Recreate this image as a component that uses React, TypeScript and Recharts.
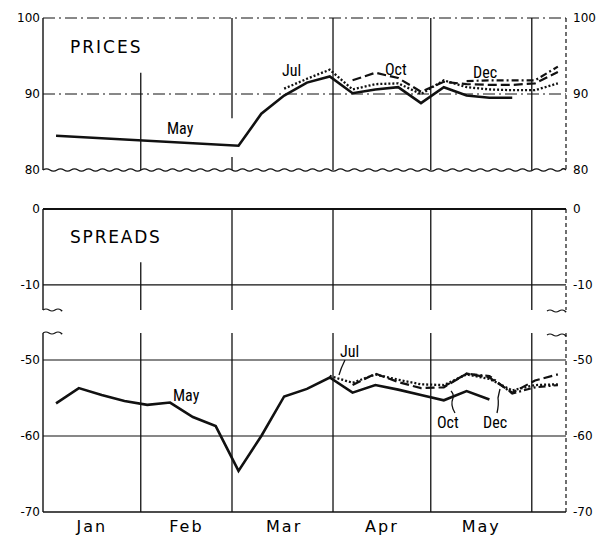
import React from 'react';
import { LineChart, Line, XAxis, YAxis, ReferenceLine } from 'recharts';

const N = null;
// x positions: day of year (Jan 1 = 1), weekly observations
const days = [5, 12, 19, 26, 33, 40, 47, 54, 61, 68, 75, 82, 89, 96, 103, 110, 117, 124, 131, 138, 145, 152, 159];

const priceMay = [84.5, N, N, N, N, N, N, N, 83.2, 87.4, 89.8, 91.5, 92.3, 90.1, 90.6, 90.9, 88.8, 90.9, 89.8, 89.5, 89.5, N, N];
const priceJul = [N, N, N, N, N, N, N, N, N, N, 90.7, 92.0, 93.2, 90.6, 91.3, 91.4, 90.0, 91.8, 90.9, 90.6, 90.5, 90.5, 91.4];
const priceOct = [N, N, N, N, N, N, N, N, N, N, N, N, N, 91.8, 92.8, 92.1, 90.3, 91.6, 91.3, 91.2, 91.2, 91.4, 92.9];
const priceDec = [N, N, N, N, N, N, N, N, N, N, N, N, N, N, N, N, N, N, 91.7, 91.8, 91.8, 91.8, 93.6];

const spreadMay = [-55.7, -53.7, -54.6, -55.4, -55.9, -55.6, -57.5, -58.7, -64.6, -60.0, -54.8, -53.8, -52.3, -54.3, -53.3, -53.9, -54.6, -55.3, -54.1, -55.2, N, N, N];
const spreadJul = [N, N, N, N, N, N, N, N, N, N, N, N, -52.1, -53.0, -51.9, -52.6, -53.2, -53.3, -51.9, -52.5, -54.0, -53.3, -53.2];
const spreadOct = [N, N, N, N, N, N, N, N, N, N, N, N, N, -53.3, -51.8, -52.9, -53.7, -53.6, -51.8, -52.3, -54.3, -52.7, -51.9];
const spreadDec = [N, N, N, N, N, N, N, N, N, N, N, N, N, N, N, N, N, -53.5, -51.8, -52.1, -54.4, -53.6, -53.3];

const monthBounds = [31, 59, 90, 120, 151];
const monthMids = [16, 45, 75, 105, 135.5];
const monthLabels = ['Jan', 'Feb', 'Mar', 'Apr', 'May'];

const priceTicks = [80, 90, 100];
const spreadTopTicks = [-10, 0];
const spreadBottomTicks = [-70, -60, -50];

const priceData = days.map((d, i) => ({ d, may: priceMay[i], jul: priceJul[i], oct: priceOct[i], dec: priceDec[i] }));
const spreadData = days.map((d, i) => ({ d, may: spreadMay[i], jul: spreadJul[i], oct: spreadOct[i], dec: spreadDec[i] }));

const X_DOMAIN: [number, number] = [1, 161.5];
const tickStyle = { fontSize: 12, fill: '#000', fontFamily: 'DejaVu Sans' };
const INK = '#111';

const Wavy = (props: any) => {
  const { x1, x2, y1 } = props;
  const parts: string[] = [`M${x1},${y1}`];
  const step = 7;
  let up = true;
  for (let x = x1; x < x2; x += step) {
    const nx = Math.min(x + step, x2);
    parts.push(`Q${(x + nx) / 2},${y1 + (up ? -2.4 : 2.4)} ${nx},${y1}`);
    up = !up;
  }
  return <path d={parts.join(' ')} stroke={INK} strokeWidth={1.3} fill="none" />;
};

const lineStyles = {
  may: { strokeWidth: 2.6 },
  jul: { strokeWidth: 2.3, strokeDasharray: '2 2' },
  oct: { strokeWidth: 2.2, strokeDasharray: '9 4' },
  dec: { strokeWidth: 2.2, strokeDasharray: '7 3 2 3' },
};

function Series({ connectMay }: { connectMay?: boolean }) {
  return null;
}

const renderLines = (connectMay: boolean) => [
  <Line key="may" yAxisId="l" dataKey="may" stroke={INK} strokeWidth={lineStyles.may.strokeWidth} dot={false} isAnimationActive={false} connectNulls={connectMay} />,
  <Line key="jul" yAxisId="l" dataKey="jul" stroke={INK} strokeWidth={lineStyles.jul.strokeWidth} strokeDasharray={lineStyles.jul.strokeDasharray} dot={false} isAnimationActive={false} />,
  <Line key="oct" yAxisId="l" dataKey="oct" stroke={INK} strokeWidth={lineStyles.oct.strokeWidth} strokeDasharray={lineStyles.oct.strokeDasharray} dot={false} isAnimationActive={false} />,
  <Line key="dec" yAxisId="l" dataKey="dec" stroke={INK} strokeWidth={lineStyles.dec.strokeWidth} strokeDasharray={lineStyles.dec.strokeDasharray} dot={false} isAnimationActive={false} />,
];

const axes = (domain: [number, number], ticks: number[]) => [
  <YAxis key="l" yAxisId="l" orientation="left" width={43} domain={domain} ticks={ticks} type="number" allowDataOverflow
    tickLine={false} tickSize={0} tickMargin={3} tick={tickStyle} axisLine={{ stroke: INK, strokeWidth: 1.4 }} interval={0} />,
  <YAxis key="r" yAxisId="r" orientation="right" width={33} domain={domain} ticks={ticks} type="number" allowDataOverflow
    tickLine={false} tickSize={0} tickMargin={7} tick={tickStyle} axisLine={{ stroke: INK, strokeWidth: 1.2, strokeDasharray: '4 3' }} interval={0} />,
];

const vline = { stroke: INK, strokeWidth: 1.3 };

export default function App() {
  const narrow = "'Liberation Sans Narrow', 'Roboto Condensed', 'Liberation Sans', sans-serif";
  const wide = "'DejaVu Sans', sans-serif";
  const stub = (x1: number, x2: number, y: number) => {
    const parts: string[] = [`M${x1},${y}`];
    let up = true;
    for (let x = x1; x < x2; x += 6) {
      const nx = Math.min(x + 6, x2);
      parts.push(`Q${(x + nx) / 2},${y + (up ? -2 : 2)} ${nx},${y}`);
      up = !up;
    }
    return <path d={parts.join(' ')} stroke={INK} strokeWidth={1.2} fill="none" />;
  };
  return (
    <div style={{ position: 'absolute', left: 0, top: 0, width: 599, height: 537, background: '#fff' }}>
      {/* PRICES */}
      <div style={{ position: 'absolute', left: 0, top: 0 }}>
        <LineChart width={599} height={180} data={priceData} margin={{ top: 18, right: 0, bottom: 10, left: 0 }}>
          <XAxis dataKey="d" type="number" domain={X_DOMAIN} hide />
          {axes([80, 100], priceTicks)}
          <ReferenceLine yAxisId="l" y={100} stroke={INK} strokeWidth={1} strokeDasharray="12 4 2 4" />
          <ReferenceLine yAxisId="l" y={90} stroke={INK} strokeWidth={1} strokeDasharray="12 4 2 4" />
          <ReferenceLine yAxisId="l" y={80} shape={Wavy} />
          <ReferenceLine yAxisId="l" segment={[{ x: monthBounds[0], y: 92.8 }, { x: monthBounds[0], y: 80 }]} {...vline} />
          <ReferenceLine yAxisId="l" segment={[{ x: monthBounds[1], y: 100 }, { x: monthBounds[1], y: 86.8 }]} {...vline} />
          <ReferenceLine yAxisId="l" segment={[{ x: monthBounds[1], y: 81.7 }, { x: monthBounds[1], y: 80 }]} {...vline} />
          {monthBounds.slice(2).map((b) => (
            <ReferenceLine key={b} yAxisId="l" x={b} {...vline} />
          ))}
          {renderLines(true)}
        </LineChart>
      </div>
      {/* SPREADS upper */}
      <div style={{ position: 'absolute', left: 0, top: 191 }}>
        <LineChart width={599} height={130} data={spreadData} margin={{ top: 18, right: 0, bottom: 11, left: 0 }}>
          <XAxis dataKey="d" type="number" domain={X_DOMAIN} hide />
          {axes([-13.3, 0], spreadTopTicks)}
          <ReferenceLine yAxisId="l" y={0} stroke={INK} strokeWidth={2} />
          <ReferenceLine yAxisId="l" y={-10} stroke={INK} strokeWidth={1.2} />
          <ReferenceLine yAxisId="l" segment={[{ x: monthBounds[0], y: -7 }, { x: monthBounds[0], y: -13.3 }]} {...vline} />
          {monthBounds.slice(1).map((b) => (
            <ReferenceLine key={b} yAxisId="l" x={b} {...vline} />
          ))}
        </LineChart>
      </div>
      {/* SPREADS lower */}
      <div style={{ position: 'absolute', left: 0, top: 315 }}>
        <LineChart width={599} height={222} data={spreadData} margin={{ top: 18, right: 0, bottom: 0, left: 0 }}>
          <XAxis dataKey="d" type="number" domain={X_DOMAIN} ticks={monthMids} interval={0}
            tickFormatter={(v: number) => monthLabels[monthMids.indexOf(v)] ?? ''}
            tickLine={false} tickSize={0} tickMargin={9} height={25}
            tick={{ fontSize: 16, fill: '#000', fontFamily: wide, letterSpacing: 2 }}
            axisLine={{ stroke: INK, strokeWidth: 1.4 }} />
          {axes([-70, -46.45], spreadBottomTicks)}
          <ReferenceLine yAxisId="l" y={-50} stroke={INK} strokeWidth={1.1} />
          <ReferenceLine yAxisId="l" y={-60} stroke={INK} strokeWidth={1.1} />
          {monthBounds.map((b) => (
            <ReferenceLine key={b} yAxisId="l" x={b} {...vline} />
          ))}
          {renderLines(false)}
        </LineChart>
      </div>
      {/* annotations */}
      <svg width={599} height={537} style={{ position: 'absolute', left: 0, top: 0, pointerEvents: 'none' }}>
        <text x={70} y={53} fontFamily={wide} fontSize={17} letterSpacing={2} fill="#000">PRICES</text>
        <text x={70} y={243} fontFamily={wide} fontSize={17} letterSpacing={1.8} fill="#000">SPREADS</text>
        <g fontFamily={narrow} fontSize={16} fill="#000">
          <text x={167} y={134}>May</text>
          <text x={282} y={76}>Jul</text>
          <text x={385} y={75}>Oct</text>
          <text x={473} y={78}>Dec</text>
          <text x={173} y={401}>May</text>
          <text x={340} y={357}>Jul</text>
          <text x={437} y={428}>Oct</text>
          <text x={483} y={428}>Dec</text>
        </g>
        <g stroke={INK} strokeWidth={1.3} fill="none">
          <path d="M345,360 Q341,368 339,375" />
          <path d="M455,413 Q450,405 453,398 Q454,394 451,391" />
          <path d="M497,413 Q499,404 498,398 Q499,393 500,389" />
        </g>
        {stub(43, 62, 310)}
        {stub(43, 62, 333)}
        {stub(547, 566, 311)}
        {stub(547, 566, 335)}
      </svg>
    </div>
  );
}
